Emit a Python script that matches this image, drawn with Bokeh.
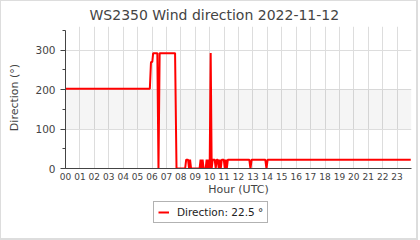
from bokeh.plotting import figure
from bokeh.layouts import column
from bokeh.models import Range1d, FixedTicker, SingleIntervalTicker, BoxAnnotation, Legend, LegendItem
from bokeh.embed import file_html
from bokeh.resources import INLINE

# Wind direction samples (hour of day, degrees)
hours = [0.0, 5.85, 5.93, 6.02, 6.08, 6.37, 6.45, 6.53, 7.60, 7.70, 8.30,
         8.37, 8.50, 8.57, 8.64, 8.71, 9.30, 9.37, 9.44, 9.51, 9.58, 9.72,
         9.79, 9.86, 9.93, 10.00, 10.07, 10.14, 10.21, 10.35, 10.42, 10.49,
         10.56, 10.63, 10.70, 10.77, 10.84, 10.98, 11.05, 11.12, 11.19, 11.26,
         12.75, 12.83, 12.91, 13.86, 13.94, 14.02, 23.95]
direction = [202.5, 202.5, 270.0, 270.0, 292.5, 292.5, 0.0, 292.5, 292.5, 0.0, 0.0,
             22.5, 22.5, 0.0, 22.5, 0.0, 0.0, 22.5, 0.0, 22.5, 0.0, 0.0,
             22.5, 0.0, 22.5, 0.0, 292.5, 0.0, 22.5, 22.5, 0.0, 22.5,
             22.5, 0.0, 22.5, 0.0, 22.5, 22.5, 0.0, 22.5, 0.0, 22.5,
             22.5, 0.0, 22.5, 22.5, 0.0, 22.5, 22.5]

hour_ticks = list(range(24))
hour_labels = ["00", "01", "02", "03", "04", "05", "06", "07", "08", "09", "10", "11",
               "12", "13", "14", "15", "16", "17", "18", "19", "20", "21", "22", "23"]
band = (100, 200)
legend_label = "Direction: 22.5 °"

FONT = "DejaVu Sans"
RED = "#ff0000"

p = figure(width=415, height=197, x_range=Range1d(0, 24), y_range=Range1d(0, 360),
           output_backend="svg", toolbar_location=None,
           title="WS2350 Wind direction 2022-11-12",
           min_border_left=64, min_border_right=5, min_border_top=0, min_border_bottom=0)
p.outline_line_color = None

p.title.align = "left"
p.title.offset = 24
p.title.standoff = 7
p.title.text_font = FONT
p.title.text_font_size = "14px"
p.title.text_font_style = "normal"
p.title.text_color = "#444444"

p.add_layout(BoxAnnotation(bottom=band[0], top=band[1], fill_color="#000000",
                           fill_alpha=0.04, line_color=None, level="underlay"))

r = p.line(hours, direction, line_color=RED, line_width=2)

xa = p.xaxis[0]
xa.ticker = FixedTicker(ticks=hour_ticks)
xa.major_label_overrides = {t: l for t, l in zip(hour_ticks, hour_labels)}
xa.major_tick_in = 0
xa.major_tick_out = 0
xa.minor_tick_in = 0
xa.minor_tick_out = 0
xa.major_label_standoff = 4
xa.axis_label = "Hour (UTC)"
xa.axis_label_standoff = 0

ya = p.yaxis[0]
ya.ticker = SingleIntervalTicker(interval=100, num_minor_ticks=2)
ya.bounds = (0, 350)
ya.major_tick_in = 0
ya.major_tick_out = 5
ya.minor_tick_in = 0
ya.minor_tick_out = 3
ya.major_label_standoff = 5
ya.axis_label = "Direction (°)"
ya.axis_label_standoff = 11

for ax in (xa, ya):
    ax.axis_line_color = "#444444"
    ax.major_label_text_font = FONT
    ax.major_label_text_color = "#444444"
    ax.axis_label_text_font = FONT
    ax.axis_label_text_font_size = "11px"
    ax.axis_label_text_font_style = "normal"
    ax.axis_label_text_color = "#444444"
xa.major_tick_line_color = None
xa.minor_tick_line_color = None
ya.major_tick_line_color = "#444444"
ya.minor_tick_line_color = "#444444"
xa.major_label_text_font_size = "9px"
ya.major_label_text_font_size = "10.5px"

p.xgrid.ticker = FixedTicker(ticks=hour_ticks)
p.ygrid.ticker = FixedTicker(ticks=[100, 200, 300])
p.xgrid.grid_line_color = "#dddddd"
p.ygrid.grid_line_color = "#dddddd"

# legend strip below the chart (key line lies outside the visible range)
q = figure(width=415, height=40, x_range=Range1d(0, 1), y_range=Range1d(0, 1),
           output_backend="svg", toolbar_location=None, x_axis_type=None, y_axis_type=None,
           min_border=0)
q.outline_line_color = None
q.xgrid.visible = False
q.ygrid.visible = False
key = q.line(x=[5, 6], y=[5, 6], line_color=RED, line_width=2)
legend = Legend(items=[LegendItem(label=legend_label, renderers=[key])],
                location=(88, 15), orientation="horizontal",
                label_text_font=FONT, label_text_font_size="10.5px", label_text_color="#222222",
                border_line_color="#666666", border_line_width=1,
                glyph_width=11, glyph_height=10, label_height=11, label_width=20,
                padding=4, margin=0, spacing=0, label_standoff=8)
q.add_layout(legend, "center")

layout = column(p, q, spacing=0)
layout.styles = {"border-left": "1px solid #dddddd", "border-top": "1px solid #dddddd",
                 "border-right": "2px solid #dddddd", "border-bottom": "2px solid #dddddd"}

open("out.html", "w").write(file_html(layout, INLINE))
